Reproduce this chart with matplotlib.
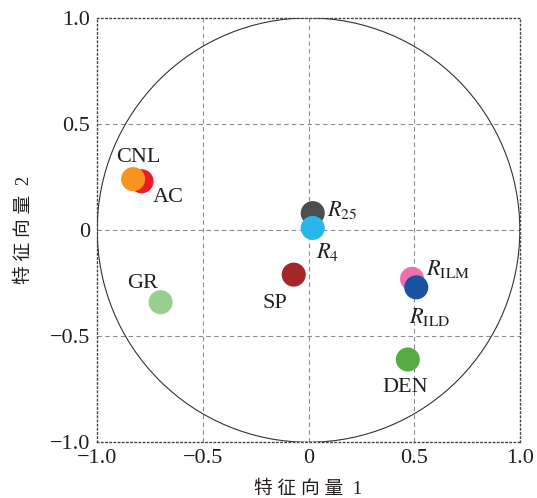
import matplotlib
matplotlib.use("Agg")
import matplotlib.pyplot as plt
from matplotlib.patches import Circle

plt.rcParams['font.family'] = ['Liberation Serif', 'Noto Sans CJK SC']
plt.rcParams['mathtext.fontset'] = 'stix'
plt.rcParams['axes.unicode_minus'] = True

# Loadings of each log on the first two eigenvectors (drawing order matters for overlaps)
names = ['AC', 'CNL', r'$R_{25}$', r'$R_{4}$', 'GR', 'SP',
         r'$R_{\mathrm{ILM}}$', r'$R_{\mathrm{ILD}}$', 'DEN']
pc1 = [-0.79, -0.83, 0.02, 0.02, -0.70, -0.07, 0.49, 0.51, 0.47]
pc2 = [0.23, 0.24, 0.08, 0.01, -0.34, -0.21, -0.23, -0.27, -0.61]
colors = ['#ed1c24', '#f7931e', '#4d4d4f', '#29b6ea', '#98cf8e', '#a3262a',
          '#ee6fae', '#1b53a4', '#56ab45']
# label placement: (dx, dy) in pixels and horizontal alignment
label_offsets = [(27, -16), (5, 22), (14, 3), (3, -24), (-18, 19), (-19, -29),
                 (14, 10), (-7, -30), (-3, -28)]
label_ha = ['center', 'center', 'left', 'left', 'center', 'center',
            'left', 'left', 'center']

ticks = [-1.0, -0.5, 0, 0.5, 1.0]
tick_labels = ['\u22121.0', '\u22120.5', '0', '0.5', '1.0']

DPI = 100
fig = plt.figure(figsize=(5.37, 4.98), dpi=DPI)
ax = fig.add_axes([0.181, 0.112, 0.787, 0.852])
ax.set_xlim(-1, 1)
ax.set_ylim(-1, 1)

for v in (-0.5, 0, 0.5):
    ax.axvline(v, color='#8c8c8c', lw=0.8, ls=(0, (4, 3)), zorder=1)
    ax.axhline(v, color='#8c8c8c', lw=0.8, ls=(0, (4, 3)), zorder=1)

ax.add_patch(Circle((0, 0), 1.0, fill=False, ec='#333333', lw=0.8, zorder=2))

px2pt = 72.0 / DPI
for x, y, c, n, off, ha in zip(pc1, pc2, colors, names, label_offsets, label_ha):
    ax.scatter([x], [y], s=300, color=c, edgecolors='none', zorder=3)
    ax.annotate(n, (x, y), xytext=(off[0] * px2pt, off[1] * px2pt),
                textcoords='offset points', ha=ha, va='center',
                fontsize=16, color='#231f20', zorder=4)

for s in ax.spines.values():
    s.set_linestyle((0, (1, 2)))
    s.set_linewidth(1.0)
    s.set_color('#444444')

ax.set_xticks(ticks)
ax.set_xticklabels(tick_labels)
ax.set_yticks(ticks)
ax.set_yticklabels(tick_labels)
ax.tick_params(length=0, labelsize=16, pad=5, colors='#231f20')

ax.set_xlabel('特 征 向 量  1', fontsize=13.5, labelpad=9, color='#231f20')
ax.set_ylabel('特 征 向 量  2', fontsize=13.5, labelpad=12, color='#231f20')

fig.savefig('out.png', dpi=DPI)
